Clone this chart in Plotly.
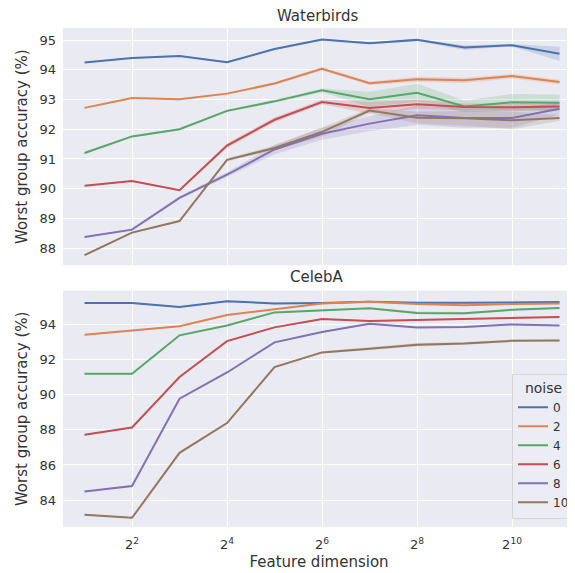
import math
import plotly.graph_objects as go

dims = [2, 4, 8, 16, 32, 64, 128, 256, 512, 1024, 2048]
noise_levels = ["0", "2", "4", "6", "8", "10"]
colors = ["#4C72B0", "#DD8452", "#55A868", "#C44E52", "#8172B3", "#937860"]

wb_mean = {
    "0": [94.25, 94.40, 94.47, 94.26, 94.70, 95.02, 94.90, 95.01, 94.75, 94.83, 94.54],
    "2": [92.72, 93.05, 93.01, 93.20, 93.54, 94.04, 93.55, 93.68, 93.65, 93.79, 93.59],
    "4": [91.20, 91.76, 92.00, 92.62, 92.94, 93.31, 93.01, 93.23, 92.77, 92.91, 92.89],
    "6": [90.10, 90.26, 89.95, 91.45, 92.32, 92.92, 92.72, 92.84, 92.75, 92.74, 92.77],
    "8": [88.37, 88.62, 89.69, 90.47, 91.32, 91.85, 92.19, 92.47, 92.38, 92.38, 92.69],
    "10": [87.76, 88.52, 88.91, 90.97, 91.37, 91.91, 92.63, 92.39, 92.37, 92.30, 92.38],
}
wb_err = {
    "0": [0.02, 0.02, 0.02, 0.03, 0.03, 0.03, 0.03, 0.03, 0.08, 0.04, 0.24],
    "2": [0.02, 0.03, 0.03, 0.03, 0.04, 0.06, 0.06, 0.09, 0.09, 0.08, 0.08],
    "4": [0.04, 0.03, 0.03, 0.04, 0.05, 0.06, 0.25, 0.30, 0.20, 0.28, 0.28],
    "6": [0.02, 0.02, 0.03, 0.08, 0.08, 0.08, 0.20, 0.15, 0.12, 0.12, 0.12],
    "8": [0.02, 0.03, 0.05, 0.08, 0.16, 0.20, 0.25, 0.33, 0.33, 0.33, 0.20],
    "10": [0.02, 0.03, 0.03, 0.05, 0.08, 0.15, 0.08, 0.20, 0.25, 0.30, 0.10],
}

ce_mean = {
    "0": [95.19, 95.19, 94.97, 95.29, 95.17, 95.19, 95.27, 95.21, 95.21, 95.23, 95.25],
    "2": [93.39, 93.62, 93.87, 94.51, 94.85, 95.16, 95.27, 95.14, 95.06, 95.14, 95.16],
    "4": [91.18, 91.18, 93.36, 93.92, 94.66, 94.76, 94.89, 94.63, 94.61, 94.81, 94.91],
    "6": [87.71, 88.13, 90.99, 93.03, 93.81, 94.28, 94.17, 94.23, 94.32, 94.36, 94.40],
    "8": [84.49, 84.81, 89.76, 91.25, 92.96, 93.55, 94.02, 93.81, 93.83, 93.98, 93.92],
    "10": [83.17, 83.00, 86.69, 88.38, 91.56, 92.39, 92.60, 92.83, 92.90, 93.05, 93.07],
}
ce_err = {
    "0": [0.04] * 11,
    "2": [0.04] * 11,
    "4": [0.04, 0.04, 0.04, 0.04, 0.04, 0.04, 0.04, 0.08, 0.08, 0.04, 0.04],
    "6": [0.04] * 11,
    "8": [0.04] * 11,
    "10": [0.04, 0.04, 0.04, 0.04, 0.04, 0.06, 0.08, 0.10, 0.08, 0.06, 0.06],
}

tick_vals = [4, 16, 64, 256, 1024]
tick_text = ["2<sup>2</sup>", "2<sup>4</sup>", "2<sup>6</sup>", "2<sup>8</sup>", "2<sup>10</sup>"]

TXT = "#333333"
FONT = "DejaVu Sans"


def rgba(hexc, a):
    h = hexc.lstrip("#")
    return "rgba(%d,%d,%d,%g)" % (int(h[0:2], 16), int(h[2:4], 16), int(h[4:6], 16), a)


fig = go.Figure()

for axis_suffix, means, errs, show in (("", wb_mean, wb_err, False), ("2", ce_mean, ce_err, True)):
    xa = "x" + axis_suffix
    ya = "y" + axis_suffix
    for lvl, col in zip(noise_levels, colors):
        m = means[lvl]
        e = errs[lvl]
        upper = [a + b for a, b in zip(m, e)]
        lower = [a - b for a, b in zip(m, e)]
        fig.add_trace(go.Scatter(
            x=dims + dims[::-1], y=upper + lower[::-1], fill="toself",
            fillcolor=rgba(col, 0.2), line=dict(width=0), mode="lines",
            hoverinfo="skip", showlegend=False, xaxis=xa, yaxis=ya,
        ))
    for lvl, col in zip(noise_levels, colors):
        fig.add_trace(go.Scatter(
            x=dims, y=means[lvl], mode="lines", name=lvl,
            line=dict(color=col, width=2), showlegend=show,
            xaxis=xa, yaxis=ya,
        ))

# The page body has an 8px margin, so the figure is drawn 8px right/down.
# Screen plot area: left 63, right 575; panel1 28-265.5, panel2 291-527.5
H_TOTAL = 527.5 - 28
d1 = [(527.5 - 265.5) / H_TOTAL, 1.0]
d2 = [0.0, (527.5 - 291) / H_TOTAL]

xr = [math.log10(2) * 0.547, math.log10(2) * 11.326]

common_x = dict(
    type="log", range=xr, tickvals=tick_vals, ticktext=tick_text,
    showgrid=True, gridcolor="white", gridwidth=1.2, zeroline=False,
    showline=False, ticks="", tickfont=dict(size=13, color=TXT, family=FONT),
    automargin=False,
)
common_y = dict(
    showgrid=True, gridcolor="white", gridwidth=1.2, zeroline=False,
    showline=False, ticks="", tickfont=dict(size=13, color=TXT, family=FONT),
    ticklabelstandoff=6, automargin=False,
    title=dict(text="Worst group accuracy (%)", font=dict(size=15, color=TXT, family=FONT), standoff=8),
)

fig.update_layout(
    width=567, height=565,
    margin=dict(l=55, r=0, t=20, b=45.5),
    paper_bgcolor="white", plot_bgcolor="#EAEAF2",
    font=dict(family=FONT, color=TXT),
    xaxis=dict(**common_x, anchor="y", showticklabels=False, matches="x2"),
    yaxis=dict(**common_y, domain=d1, anchor="x", range=[87.42, 95.41],
               tickvals=[88, 89, 90, 91, 92, 93, 94, 95]),
    xaxis2=dict(**common_x, anchor="y2", ticklabelstandoff=8,
                title=dict(text="Feature dimension", font=dict(size=15, color=TXT, family=FONT), standoff=5)),
    yaxis2=dict(**common_y, domain=d2, anchor="x2", range=[82.48, 95.89],
                tickvals=[84, 86, 88, 90, 92, 94]),
    legend=dict(
        x=1.0, y=0.017, xanchor="right", yanchor="bottom",
        bgcolor="rgba(236,236,244,0.9)", bordercolor="#D6D6D6", borderwidth=1,
        font=dict(size=12, color=TXT, family=FONT),
        title=dict(text="noise", font=dict(size=14, color=TXT, family=FONT), side="top center"),
        itemwidth=30, tracegroupgap=0,
    ),
    showlegend=True,
    annotations=[
        dict(text="Waterbirds", x=(317 - 63) / 512, y=1.0, xref="paper", yref="paper",
             xanchor="center", yanchor="bottom", yshift=1, showarrow=False,
             font=dict(size=15, color=TXT, family=FONT)),
        dict(text="CelebA", x=(317 - 63) / 512, y=d1[0], xref="paper", yref="paper",
             xanchor="center", yanchor="bottom", yshift=-23, showarrow=False,
             font=dict(size=15, color=TXT, family=FONT)),
    ],
)

fig.write_html("out.html")
